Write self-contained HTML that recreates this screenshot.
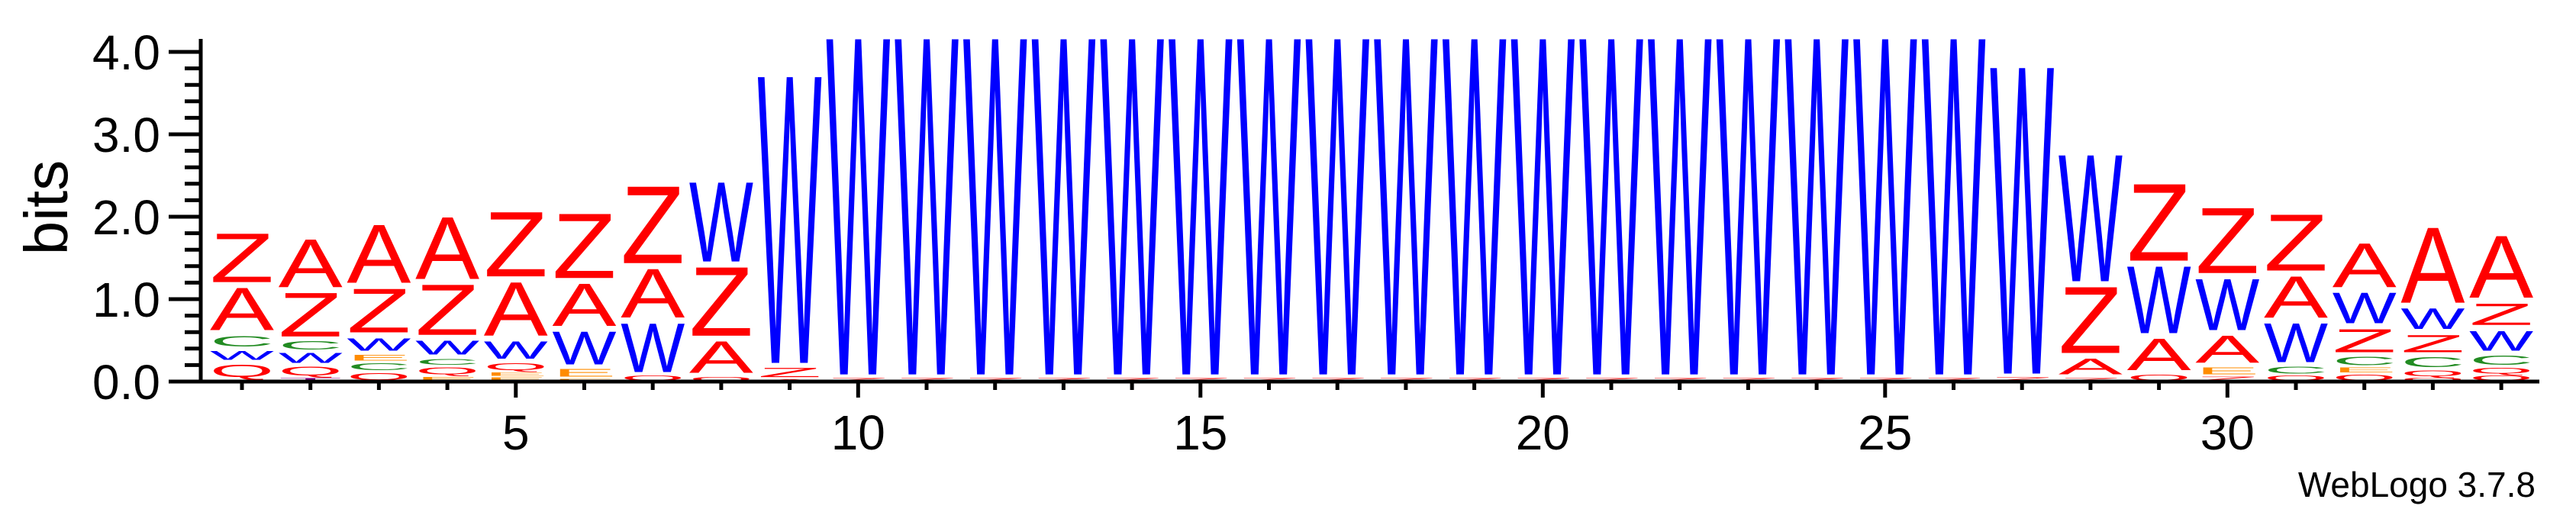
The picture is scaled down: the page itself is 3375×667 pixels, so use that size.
<!DOCTYPE html>
<html><head><meta charset="utf-8"><style>
html,body{margin:0;padding:0;background:#fff;}
svg{display:block;font-family:"Liberation Sans",Arial,sans-serif;}
</style></head><body>
<svg id="chart" width="3375" height="667" viewBox="0 0 3375 667" xmlns="http://www.w3.org/2000/svg">
<g id="stacks"></g>
<g id="axes"></g>
<text transform="translate(88,272) rotate(-90)" font-size="80" text-anchor="middle" fill="#000">bits</text>
<text x="3322" y="651" font-size="46" text-anchor="end" fill="#000">WebLogo 3.7.8</text>
</svg>
<script>
const positions = [1,2,3,4,5,6,7,8,9,10,11,12,13,14,15,16,17,18,19,20,21,22,23,24,25,26,27,28,29,30,31,32,33,34];
const stackLetters = [
 ["T","Q","W","C","A","Z"],
 ["T","Q","W","C","Z","A"],
 ["Q","C","E","W","Z","A"],
 ["E","Q","C","W","Z","A"],
 ["E","E","Q","W","A","Z"],
 ["E","E","W","A","Z"],
 ["Q","W","A","Z"],
 ["Q","A","Z","W"],
 ["A","Z","W"],
 ["Z","W"],["Z","W"],["Z","W"],["Z","W"],["Z","W"],["Z","W"],["Z","W"],["Z","W"],
 ["Z","W"],["Z","W"],["Z","W"],["Z","W"],["Z","W"],["Z","W"],["Z","W"],["Z","W"],["Z","W"],
 ["Z","W"],
 ["Z","A","Z","W"],
 ["Q","A","W","Z"],
 ["Z","E","A","W","Z"],
 ["Q","C","W","A","Z"],
 ["Q","E","C","Z","W","A"],
 ["Q","Q","C","Z","W","A"],
 ["Q","Q","C","W","Z","A"]
];
const stackHeights = [
 [0.02,0.22,0.15,0.2,0.58,0.66],
 [0.05,0.15,0.17,0.14,0.6,0.65],
 [0.12,0.12,0.1,0.22,0.6,0.77],
 [0.07,0.12,0.1,0.24,0.68,0.82],
 [0.06,0.06,0.12,0.28,0.72,0.85],
 [0.04,0.13,0.47,0.58,0.85],
 [0.08,0.66,0.66,1.0],
 [0.07,0.45,0.9,1.03],
 [0.03,0.16,3.54],
 [0.05,4.14],[0.05,4.14],[0.05,4.14],[0.05,4.14],[0.05,4.14],[0.05,4.14],[0.05,4.14],[0.05,4.14],
 [0.05,4.14],[0.05,4.14],[0.05,4.14],[0.05,4.14],[0.05,4.14],[0.05,4.14],[0.05,4.14],[0.05,4.14],[0.05,4.14],
 [0.06,3.78],
 [0.05,0.26,0.87,1.6],
 [0.1,0.45,0.88,1.0],
 [0.07,0.12,0.4,0.69,0.86],
 [0.08,0.12,0.54,0.57,0.75],
 [0.1,0.08,0.14,0.35,0.44,0.6],
 [0.05,0.1,0.17,0.28,0.32,0.98],
 [0.08,0.1,0.16,0.31,0.33,0.82]
];
const yTicks = [0,1,2,3,4];
const yTickLabels = ["0.0","1.0","2.0","3.0","4.0"];
const xTickLabels = [5,10,15,20,25,30];

const NS = "http://www.w3.org/2000/svg";
const colors = {A:"#ff0000",Z:"#ff0000",Q:"#ff0000",W:"#0000ff",C:"#228b22",E:"#ff8c00",T:"#800080"};
const y0 = 500, pxPerBit = 108;
const CAP = 68.8;
function yScale(b){ return y0 - b*pxPerBit; }
function xScale(p){ return 317 + (p-1)*89.7; }
const LW = 84;
const stacks = document.getElementById('stacks');
positions.forEach((p,i)=>{
  let cum = 0;
  const g = document.createElementNS(NS,'g');
  
  
  stackLetters[i].forEach((L,j)=>{
    const h = stackHeights[i][j];
    const yb = yScale(cum);
    const hp = h*pxPerBit;
    cum += h;
    const gap = hp > 20 ? 4 : hp*0.15;
    const gh = hp - 2*gap;
    const t = document.createElementNS(NS,'text');
    
    
    t.setAttribute('x', 0);
    t.setAttribute('y', 0);
    t.setAttribute('font-size', 100);
    t.setAttribute('textLength', LW);
    t.setAttribute('lengthAdjust', 'spacingAndGlyphs');
    t.setAttribute('fill', colors[L]);
    t.setAttribute('transform', 'translate(' + (xScale(p)-LW/2) + ',' + (yb-gap) + ') scale(1,' + (gh/CAP) + ')');
    t.textContent = L;
    g.appendChild(t);
  });
  stacks.appendChild(g);
});
const axes = document.getElementById('axes');
function line(x1,y1,x2,y2,w,name){
  const l = document.createElementNS(NS,'line');
  
  
  l.setAttribute('x1',x1);l.setAttribute('y1',y1);l.setAttribute('x2',x2);l.setAttribute('y2',y2);
  l.setAttribute('stroke','#000');l.setAttribute('stroke-width',w);
  axes.appendChild(l);
}
line(263,51,263,502,5,'y-axis-line');
line(261,500,3327,500,5,'x-axis-line');
for(let k=0;k<=20;k++){
  const v = k*0.2;
  const major = (k%5===0);
  line(major?221:242, yScale(v), 263, yScale(v), 5, 'y-tick');
}
yTicks.forEach((v,i)=>{
  const t = document.createElementNS(NS,'text');
  
  
  t.setAttribute('x',210);t.setAttribute('y',yScale(v)+23);
  t.setAttribute('font-size',64);t.setAttribute('text-anchor','end');
  t.textContent = yTickLabels[i];
  axes.appendChild(t);
});
positions.forEach(p=>{
  const major = xTickLabels.indexOf(p)>=0;
  line(xScale(p),500,xScale(p),major?521:511,5,'x-tick');
});
xTickLabels.forEach(v=>{
  const t = document.createElementNS(NS,'text');
  
  
  t.setAttribute('x',xScale(v));t.setAttribute('y',589);
  t.setAttribute('font-size',64);t.setAttribute('text-anchor','middle');
  t.textContent = v;
  axes.appendChild(t);
});
</script>
</body></html>
